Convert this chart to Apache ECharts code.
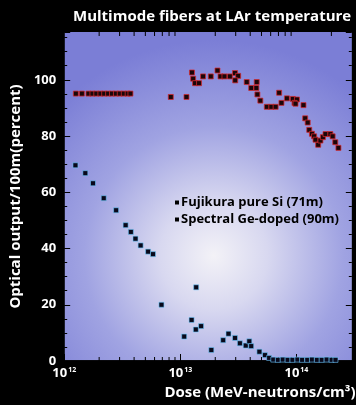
<!DOCTYPE html>
<html>
<head>
<meta charset="utf-8">
<script src="https://cdn.jsdelivr.net/npm/echarts@6/dist/echarts.min.js"></script>
<style>
  html, body { margin: 0; padding: 0; background: #000; }
  #chart { width: 356px; height: 405px; }
</style>
</head>
<body>
<div id="chart"></div>
<script>
// Fujikura pure Si (71m): dose, percent
var siDose = [
  1.26e12, 1.42e12, 1.62e12, 1.75e12, 1.89e12, 2.05e12, 2.21e12, 2.39e12, 2.58e12, 2.79e12,
  3.01e12, 3.26e12, 3.52e12, 3.72e12, 8.28e12, 1.13e13,
  1.26e13, 1.29e13, 1.34e13, 1.45e13, 1.57e13, 1.83e13, 2.09e13, 2.22e13, 2.40e13, 2.67e13,
  2.96e13, 3.15e13, 2.97e13, 3.73e13, 4.08e13, 4.52e13, 4.55e13, 4.61e13, 4.89e13, 5.56e13,
  6.08e13, 6.62e13, 7.10e13, 7.43e13, 8.28e13, 9.31e13, 1.01e14, 9.62e13, 9.82e13, 1.15e14,
  1.19e14, 1.25e14, 1.29e14, 1.36e14, 1.42e14, 1.46e14, 1.54e14, 1.61e14, 1.69e14, 1.78e14,
  1.96e14, 2.05e14, 2.16e14, 2.30e14
];
var siOut = [
  95.1, 95.1, 95.1, 95.1, 95.1, 95.1, 95.1, 95.1, 95.1, 95.1,
  95.1, 95.1, 95.1, 95.1, 93.9, 93.9,
  102.6, 100.4, 98.8, 98.8, 101.2, 101.2, 103.3, 101.2, 101.2, 101.2,
  102.4, 101.4, 99.8, 99.2, 97.1, 97.1, 99.2, 94.8, 92.6, 90.4,
  90.4, 90.4, 95.4, 91.8, 93.4, 93.2, 93.0, 91.8, 91.5, 91.0,
  86.3, 84.8, 82.2, 80.8, 79.9, 78.7, 76.9, 78.4, 79.6, 80.7,
  80.7, 79.9, 77.8, 75.8
];

// Spectral Ge-doped (90m)
var geDose = [
  1.25e12, 1.52e12, 1.77e12, 2.19e12, 2.80e12, 3.38e12, 3.75e12, 4.11e12, 4.55e12, 5.28e12,
  5.82e12, 6.88e12, 1.08e13, 1.25e13, 1.36e13, 1.37e13, 1.51e13, 1.85e13, 2.34e13, 2.60e13,
  2.96e13, 3.26e13, 3.66e13, 3.93e13, 4.08e13, 4.80e13, 5.36e13, 5.82e13,
  6.32e13, 6.92e13, 7.62e13, 8.40e13, 9.25e13, 1.02e14, 1.12e14, 1.24e14, 1.36e14, 1.50e14,
  1.65e14, 1.82e14, 2.01e14, 2.17e14
];
var geOut = [
  69.6, 66.8, 63.2, 57.9, 53.6, 48.3, 45.9, 43.5, 41.1, 38.9,
  38.0, 20.0, 8.7, 14.6, 11.2, 26.2, 12.4, 3.9, 7.4, 9.7,
  8.2, 6.3, 5.5, 7.0, 5.3, 3.3, 2.1, 1.1,
  0.5, 0.4, 0.5, 0.4, 0.4, 0.5, 0.4, 0.4, 0.5, 0.4,
  0.4, 0.5, 0.4, 0.4
];

var seriesNames = ["Fujikura pure Si (71m)", "Spectral Ge-doped (90m)"];

// log minor ticks 2..9 per decade
var minorTicks = [];
[1e12, 1e13, 1e14].forEach(function (d) {
  for (var k = 2; k <= 9; k++) {
    if (d * k < 3e14) minorTicks.push([d * k, 0]);
  }
});

function pairs(xs, ys) {
  return xs.map(function (x, i) { return [x, ys[i]]; });
}

var chart = echarts.init(document.getElementById("chart"));

var white = { color: "#fff", fontWeight: "bold", fontFamily: "Open Sans" };

var option = {
  backgroundColor: "#000",
  animation: false,
  title: {
    text: "Multimode fibers at LAr temperature",
    left: 68,
    top: 4,
    textStyle: { color: "#fff", fontSize: 15, fontWeight: "bold", fontFamily: "Open Sans" },
  },
  legend: {
    data: seriesNames,
    orient: "vertical",
    left: 170,
    top: 191,
    itemGap: 4,
    itemWidth: 4,
    itemHeight: 4,
    icon: "rect",
    itemStyle: { color: "#000", borderWidth: 0, shadowBlur: 0 },
    textStyle: { color: "#000", fontSize: 13, fontWeight: "bold", fontFamily: "Open Sans", padding: [0, 0, 0, -3] },
  },
  grid: {
    left: 59,
    right: 2,
    top: 32,
    bottom: 39,
    show: true,
    borderWidth: 0,
    backgroundColor: {
      type: "radial",
      x: 0.52,
      y: 0.68,
      r: 0.75,
      colorStops: [
        { offset: 0, color: "#f3f2f7" },
        { offset: 0.25, color: "#d8d8f0" },
        { offset: 0.6, color: "#a0a3e2" },
        { offset: 1, color: "#7b7ed6" },
      ],
    },
  },
  xAxis: [
    {
      type: "log",
      logBase: 10,
      min: 1e12,
      max: 3e14,
      name: "Dose (MeV-neutrons/cm³)",
      nameLocation: "middle",
      nameGap: 24,
      nameTextStyle: Object.assign({ fontSize: 15, padding: [0, 0, 0, 104] }, white),
      axisLine: { lineStyle: { color: "#000", width: 1.5 } },
      axisTick: { inside: true, length: 7, lineStyle: { color: "#000" } },
      splitLine: { show: false },
      axisLabel: {
        margin: 5,
        showMaxLabel: false,
        alignMinLabel: "left",
        formatter: function (v) {
          return "{b|10}{s|" + Math.round(Math.log10(v)) + "}";
        },
        rich: {
          b: Object.assign({ fontSize: 13 }, white),
          s: Object.assign({ fontSize: 7, padding: [0, 0, 8, 1] }, white),
        },
      },
    },
    {
      type: "log",
      logBase: 10,
      min: 1e12,
      max: 3e14,
      position: "top",
      axisLine: { lineStyle: { color: "#000", width: 1.5 } },
      axisTick: { inside: true, length: 6, lineStyle: { color: "#000" } },
      axisLabel: { show: false },
      splitLine: { show: false },
    },
  ],
  yAxis: [
    {
      type: "value",
      min: 0,
      max: 117,
      interval: 20,
      name: "Optical output/100m(percent)",
      nameLocation: "middle",
      nameGap: 38,
      nameTextStyle: Object.assign({ fontSize: 15, padding: [0, 0, 0, 0] }, white),
      axisLine: { show: true, lineStyle: { color: "#000", width: 1.5 } },
      axisTick: { inside: true, length: 6, lineStyle: { color: "#000" } },
      minorTick: { show: true, splitNumber: 4, length: 3, lineStyle: { color: "#000" } },
      splitLine: { show: false },
      axisLabel: Object.assign({ fontSize: 13, margin: 8, showMaxLabel: false }, white),
    },
    {
      type: "value",
      min: 0,
      max: 117,
      interval: 20,
      position: "right",
      axisLine: { show: true, lineStyle: { color: "#000", width: 1 } },
      axisTick: { inside: true, length: 6, lineStyle: { color: "#000" } },
      minorTick: { show: true, splitNumber: 4, length: 3, lineStyle: { color: "#000" } },
      splitLine: { show: false },
      axisLabel: { show: false },
    },
  ],
  series: [
    {
      name: seriesNames[0],
      type: "scatter",
      symbol: "rect",
      symbolSize: 5,
      data: pairs(siDose, siOut),
      itemStyle: {
        color: "#1a0609",
        borderColor: "rgba(215, 40, 45, 0.75)",
        borderWidth: 1,
        opacity: 1,
      },
    },
    {
      name: seriesNames[1],
      type: "scatter",
      symbol: "rect",
      symbolSize: 5,
      data: pairs(geDose, geOut),
      itemStyle: {
        color: "#08081a",
        borderColor: "rgba(110, 200, 255, 0.6)",
        borderWidth: 1,
        opacity: 1,
      },
    },
    {
      type: "custom",
      silent: true,
      data: minorTicks,
      renderItem: function (params, api) {
        var x = api.coord([api.value(0), 0])[0];
        var cs = params.coordSys;
        var style = { stroke: "#000", lineWidth: 1 };
        return {
          type: "group",
          children: [
            { type: "line", shape: { x1: x, y1: cs.y + cs.height, x2: x, y2: cs.y + cs.height - 4 }, style: style },
            { type: "line", shape: { x1: x, y1: cs.y, x2: x, y2: cs.y + 4 }, style: style },
          ],
        };
      },
    },
  ],
};

chart.setOption(option);
</script>
</body>
</html>
